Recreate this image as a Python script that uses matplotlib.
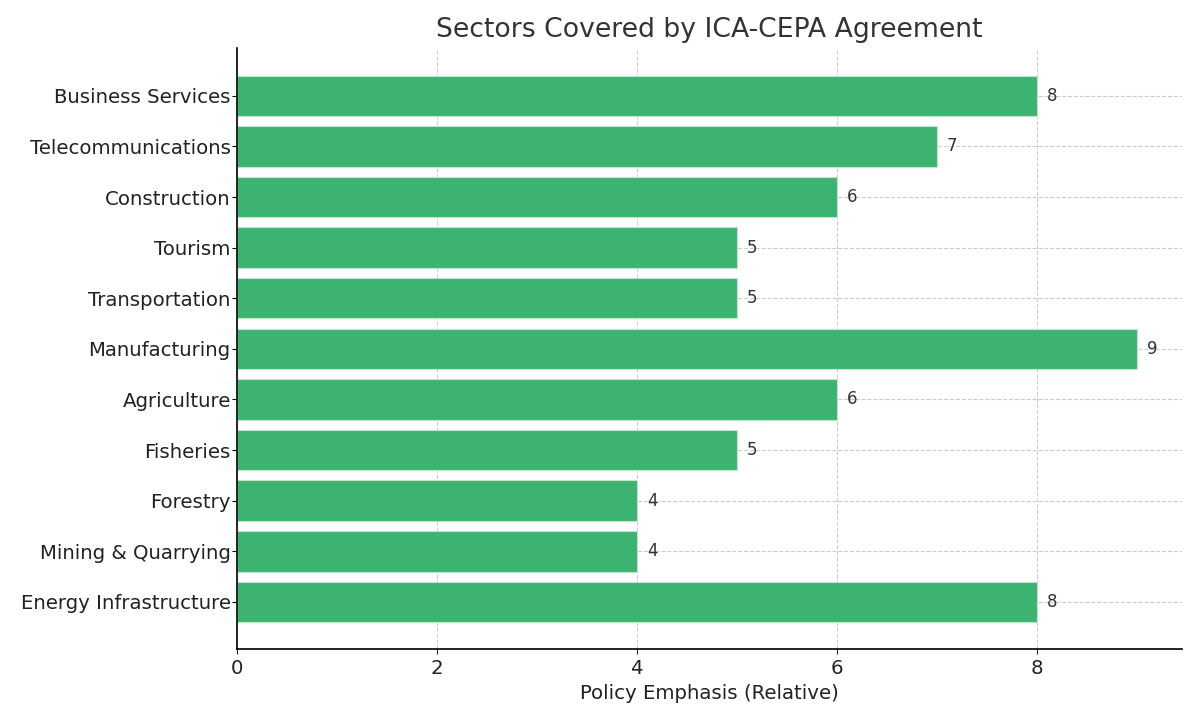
import matplotlib
matplotlib.use("Agg")
import matplotlib.pyplot as plt

sectors = ["Business Services", "Telecommunications", "Construction", "Tourism",
           "Transportation", "Manufacturing", "Agriculture", "Fisheries",
           "Forestry", "Mining & Quarrying", "Energy Infrastructure"]
values = [8, 7, 6, 5, 5, 9, 6, 5, 4, 4, 8]

fig, ax = plt.subplots(figsize=(12, 7.2), dpi=100)
fig.subplots_adjust(left=0.1975, right=0.985, top=0.933, bottom=0.098)

ypos = list(range(len(sectors)))[::-1]
bars = ax.barh(ypos, values, height=0.8, color="#3cb371", edgecolor="#bfe6cc", linewidth=0.8, zorder=2)
ax.set_yticks(ypos)
ax.set_yticklabels(sectors, fontsize=14.2, color="#222222")
ax.tick_params(axis="y", pad=1)
ax.tick_params(axis="x", labelsize=14.2, colors="#222222")
ax.set_xlabel("Policy Emphasis (Relative)", fontsize=14.2, color="#222222")
ax.set_title("Sectors Covered by ICA-CEPA Agreement", fontsize=19.2, color="#333333", pad=8)

ax.grid(True, linestyle="--", color="#cccccc", linewidth=0.8, zorder=0)
ax.set_axisbelow(True)
for s in ["top", "right"]:
    ax.spines[s].set_visible(False)
ax.spines["left"].set_linewidth(1.2)
ax.spines["bottom"].set_linewidth(1.2)

for y, v in zip(ypos, values):
    ax.text(v + 0.1, y, str(v), va="center", ha="left", fontsize=12, color="#333333")

fig.savefig("out.png", dpi=100)
